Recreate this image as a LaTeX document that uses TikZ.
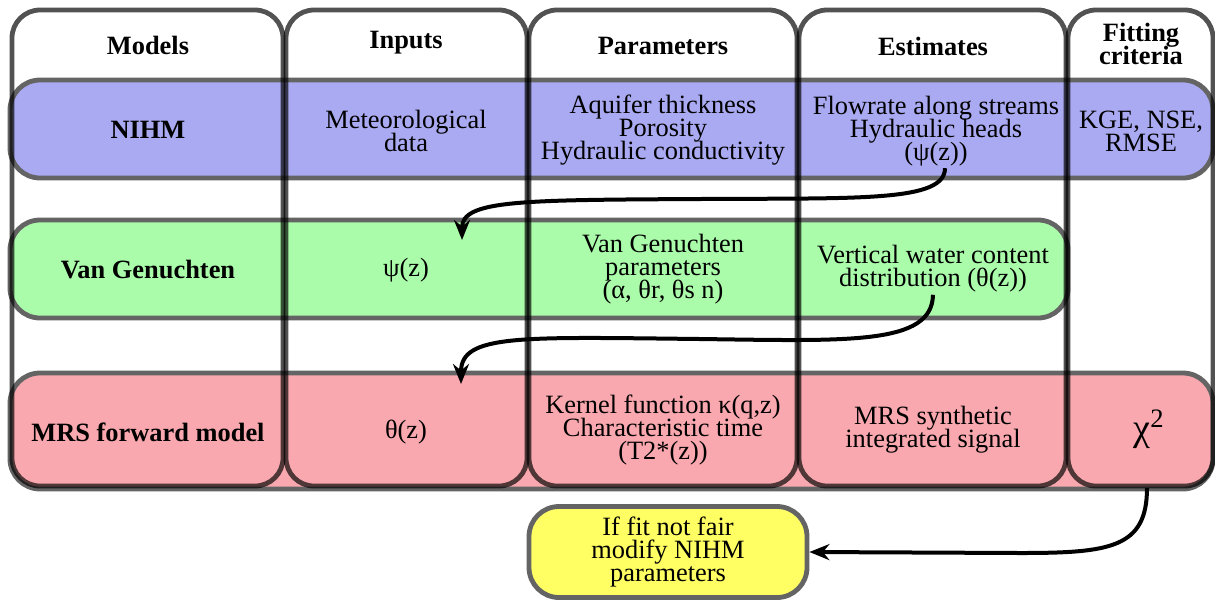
\documentclass[tikz,border=0pt]{standalone}
\usepackage{fontspec}
\setmainfont{Liberation Serif}
\usetikzlibrary{arrows.meta,positioning}
\newcommand{\cellsize}{\fontsize{13.2}{11.4}\selectfont\lineskiplimit=-20pt}
\definecolor{nihmfill}{RGB}{170,170,242}
\definecolor{vgfill}{RGB}{170,252,170}
\definecolor{mrsfill}{RGB}{248,168,174}
\definecolor{fixfill}{RGB}{255,255,100}
\definecolor{bandline}{RGB}{100,100,100}
\tikzset{
  colframe/.style={draw=black,draw opacity=0.68,line width=2.4pt,rounded corners=14pt},
  band/.style={draw=bandline,line width=2.4pt,rounded corners=15pt},
  cell/.style={align=center,font=\cellsize,inner sep=1pt},
  head/.style={align=center,font=\cellsize\bfseries,inner sep=1pt},
  fixbox/.style={draw=bandline,line width=2.4pt,rounded corners=15pt,fill=fixfill,
                 align=center,font=\cellsize,minimum width=139pt,minimum height=45.5pt},
  flow/.style={-{Stealth[length=10pt,width=8pt]},line width=2pt},
}

\begin{document}
\begin{tikzpicture}[x=0.5pt,y=-0.5pt]
  \useasboundingbox (0,0) rectangle (1215,601);
  % row bands
  \draw[band,fill=nihmfill] (10,80) rectangle (1213,178);
  \draw[band,fill=vgfill] (10,220) rectangle (1068,318);
  \draw[band,fill=mrsfill] (10,373) rectangle (1213,489);
  % column frames
  \draw[colframe] (12,10) rectangle (283,486);
  \draw[colframe] (286,10) rectangle (527,486);
  \draw[colframe] (529,10) rectangle (797,486);
  \draw[colframe] (799,10) rectangle (1066,486);
  \draw[colframe] (1068,10) rectangle (1213,486);

  % headers
  \node[head] (hmod) at (148,45) {Models};
  \node[head] (hin) at (406,43) {Inputs};
  \node[head] (hpar) at (663,46) {Parameters};
  \node[head] (hest) at (933,46) {Estimates};
  \node[head] (hfit) at (1141,44) {Fitting\\criteria};

  % NIHM row
  \node[head] (mod1) at (148,130) {NIHM};
  \node[cell] (in1) at (406,131) {Meteorological\\data};
  \node[cell] (par1) at (663,130) {Aquifer thickness\\Porosity\\Hydraulic conductivity};
  \node[cell] (est1) at (936,131) {Flowrate along streams\\Hydraulic heads\\(ψ(z))};
  \node[cell] (fit1) at (1141,131) {KGE, NSE,\\RMSE};

  % Van Genuchten row
  \node[head] (mod2) at (148,270) {Van Genuchten};
  \node[cell] (in2) at (406,270) {ψ(z)};
  \node[cell] (par2) at (663,269) {Van Genuchten\\parameters\\(α, θr, θs n)};
  \node[cell] (est2) at (933,269) {Vertical water content\\distribution (θ(z))};

  % MRS row
  \node[head] (mod3) at (148,432) {MRS forward model};
  \node[cell] (in3) at (406,432) {θ(z)};
  \node[cell] (par3) at (663,430) {Kernel function κ(q,z)\\Characteristic time\\(T2*(z))};
  \node[cell] (est3) at (933,430) {MRS synthetic\\integrated signal};
  \node[cell,font=\fontsize{19}{19}\selectfont] (chi) at (1149,429) {χ\textsuperscript{2}};

  \node[fixbox] (fix) at (668,552) {If fit not fair\\modify NIHM\\parameters};

  % connectors
  \coordinate (in2tip) at (462,240);
  \coordinate (in3tip) at (461,384);
  \coordinate (chiout) at (1147,488);
  \draw[flow] ([xshift=4.5pt]est1.south) .. controls (945,202) and (860,198) .. (700,199)
    .. controls (520,200) and (462,200) .. (in2tip);
  \draw[flow] (est2.south) .. controls (932,345) and (850,341) .. (700,339)
    .. controls (520,337) and (461,334) .. (in3tip);
  \draw[flow] (chiout) .. controls (1147,548) and (1110,553) .. (1020,553) -- (fix.east);
\end{tikzpicture}
\end{document}
